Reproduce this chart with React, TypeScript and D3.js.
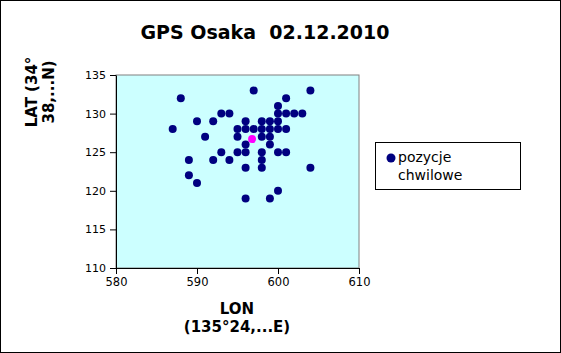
import React, { useRef, useLayoutEffect } from "react";
import * as d3 from "d3";

// GPS fixes, LON/LAT offsets
const lonValues = [
  588, 587, 590, 592, 593, 594, 591, 597, 604, 601, 600, 600, 601, 602, 603,
  596, 598, 599, 600,
  595, 596, 597, 598, 599, 600, 601,
  595, 598, 599,
  596, 599,
  593, 595, 596, 598, 600, 601,
  589, 592, 594, 598,
  596, 598, 604,
  589, 590, 600, 596, 599,
];
const latValues = [
  132, 128, 129, 129, 130, 130, 127, 133, 133, 132, 131, 130, 130, 130, 130,
  129, 129, 129, 129,
  128, 128, 128, 128, 128, 128, 128,
  127, 127, 127,
  126, 126,
  125, 125, 125, 125, 125, 125,
  124, 124, 124, 124,
  123, 123, 123,
  122, 121, 120, 119, 119,
];
// mean position (pink)
const meanLon = [596.8];
const meanLat = [126.7];

const xTicks = [580, 590, 600, 610];
const yTicks = [110, 115, 120, 125, 130, 135];

const W = 561;
const H = 353;

export default function App() {
  const svgRef = useRef<SVGSVGElement | null>(null);

  useLayoutEffect(() => {
    const svg = svgRef.current;
    if (!svg) return;
    const sel = d3.select(svg);
    sel.selectAll("*").remove();

    const M = { l: 116, r: 359, t: 75, b: 268 };
    const x = d3.scaleLinear().domain([580, 610]).range([M.l, M.r]);
    const y = d3.scaleLinear().domain([110, 135]).range([M.b, M.t]);
    const font = "'DejaVu Sans', sans-serif";

    sel
      .append("rect")
      .attr("x", 0.5)
      .attr("y", 0.5)
      .attr("width", W - 1)
      .attr("height", H - 1)
      .attr("fill", "#fff")
      .attr("stroke", "#000");

    sel
      .append("text")
      .attr("x", 265)
      .attr("y", 39)
      .attr("text-anchor", "middle")
      .attr("font-family", font)
      .attr("font-weight", "bold")
      .attr("font-size", 19)
      .attr("xml:space", "preserve")
      .style("white-space", "pre")
      .text("GPS Osaka  02.12.2010");

    // plot area
    sel
      .append("rect")
      .attr("x", M.l)
      .attr("y", M.t)
      .attr("width", M.r - M.l)
      .attr("height", M.b - M.t)
      .attr("fill", "#ccffff")
      .attr("stroke", "#808080");

    const gx = sel
      .append("g")
      .attr("transform", `translate(0,${M.b})`)
      .call(d3.axisBottom(x).tickValues(xTicks).tickSize(6).tickSizeOuter(0).tickPadding(4));
    gx.select(".domain").attr("stroke", "#000");
    gx.selectAll("text").attr("font-family", font).attr("font-size", 11.5).attr("fill", "#000");

    const gy = sel
      .append("g")
      .attr("transform", `translate(${M.l},0)`)
      .call(d3.axisLeft(y).tickValues(yTicks).tickSize(6).tickSizeOuter(0).tickPadding(4));
    gy.select(".domain").attr("stroke", "#000");
    gy.selectAll("text").attr("font-family", font).attr("font-size", 11).attr("fill", "#000");

    // axis titles
    const xt = sel
      .append("text")
      .attr("text-anchor", "middle")
      .attr("font-family", font)
      .attr("font-weight", "bold")
      .attr("font-size", 15);
    xt.append("tspan").attr("x", 237).attr("y", 314).text("LON");
    xt.append("tspan").attr("x", 237).attr("y", 332).text("(135°24,...E)");

    const yt = sel
      .append("text")
      .attr("text-anchor", "middle")
      .attr("font-family", font)
      .attr("font-weight", "bold")
      .attr("font-size", 15)
      .attr("transform", "translate(0,92) rotate(-90)");
    yt.append("tspan").attr("x", 0).attr("y", 37).text("LAT (34°");
    yt.append("tspan").attr("x", 0).attr("y", 54).text("38,...N)");

    const pts = lonValues.map((lon, i) => ({ lon, lat: latValues[i] }));
    sel
      .append("g")
      .selectAll("circle")
      .data(pts)
      .enter()
      .append("circle")
      .attr("cx", (d) => x(d.lon))
      .attr("cy", (d) => y(d.lat))
      .attr("r", 4)
      .attr("fill", "#000080");

    sel
      .append("g")
      .selectAll("circle")
      .data(meanLon.map((lon, i) => ({ lon, lat: meanLat[i] })))
      .enter()
      .append("circle")
      .attr("cx", (d) => x(d.lon))
      .attr("cy", (d) => y(d.lat))
      .attr("r", 4)
      .attr("fill", "#ff00ff");

    // legend
    const lg = sel.append("g");
    lg.append("rect")
      .attr("x", 375.5)
      .attr("y", 142.5)
      .attr("width", 145)
      .attr("height", 47)
      .attr("fill", "#fff")
      .attr("stroke", "#000");
    lg.append("circle").attr("cx", 391).attr("cy", 158).attr("r", 4.5).attr("fill", "#000080");
    const lt = lg.append("text").attr("font-family", font).attr("font-size", 14);
    lt.append("tspan").attr("x", 398).attr("y", 162).text("pozycje");
    lt.append("tspan").attr("x", 398).attr("y", 180).text("chwilowe");
  }, []);

  return (
    <svg
      ref={svgRef}
      width={W}
      height={H}
      style={{ position: "absolute", left: 0, top: 0, display: "block" }}
    />
  );
}
